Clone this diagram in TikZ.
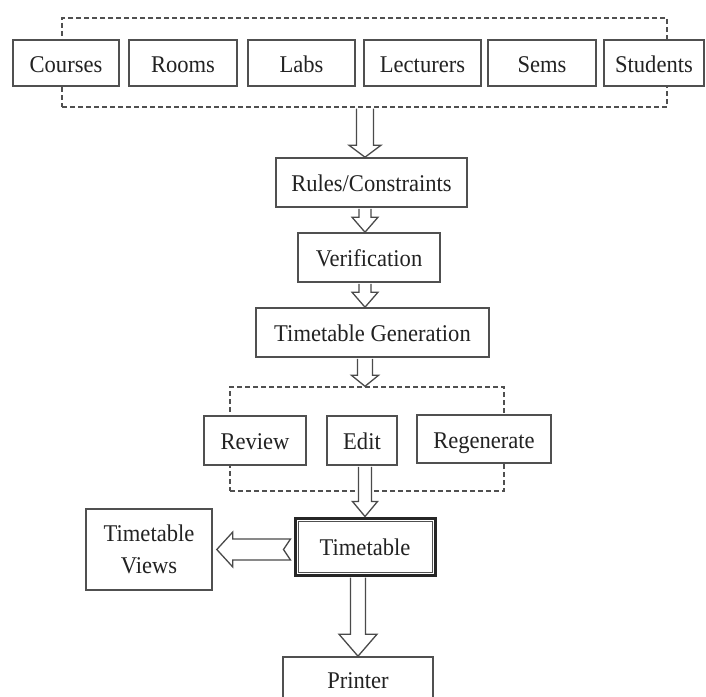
\documentclass[tikz,border=0pt]{standalone}
\usepackage{fontspec}
\setmainfont{Liberation Serif}[FakeStretch=0.94]
\usetikzlibrary{calc}
\definecolor{boxc}{HTML}{505050}
\definecolor{arrc}{HTML}{4A4A4A}
\definecolor{textc}{HTML}{222222}
\newcommand{\blkdown}[6]{%
  \draw[blk] let \p0=(#1), \p1=(#2), \p2=(#3) in
    (\x0-#4,\y1-1pt) -- (\x0-#4,\y2+#6) -- (\x0-#5,\y2+#6) -- (\x0,\y2)
    -- (\x0+#5,\y2+#6) -- (\x0+#4,\y2+#6) -- (\x0+#4,\y1-1pt);}
\begin{document}
\begin{tikzpicture}[x=1pt,y=-1pt,
  box/.style={draw=boxc, line width=1.6pt, rectangle, inner sep=0pt, align=center,
    font=\fontsize{24}{32}\selectfont, text=textc},
  one/.style={box, text height=20pt, text depth=2pt},
  dbox/.style={draw=boxc, line width=1.4pt, dash pattern=on 5pt off 3pt, rectangle, inner sep=0pt},
  blk/.style={draw=arrc, line width=1.3pt, fill=white, line join=miter}]
\useasboundingbox[fill=white] (0,0) rectangle (706,696);

% top dashed group
\node[dbox, minimum width=605pt, minimum height=89pt] (topbox) at (364.5,62.5) {};
\node[one, fill=white, minimum width=106pt, minimum height=46pt] (courses) at (66,63) {Courses};
\node[one, minimum width=108pt, minimum height=46pt] (rooms) at (183,63) {Rooms};
\node[one, minimum width=107pt, minimum height=46pt] (labs) at (301.5,63) {Labs};
\node[one, minimum width=117pt, minimum height=46pt] (lect) at (422.5,63) {Lecturers};
\node[one, minimum width=108pt, minimum height=46pt] (sems) at (542,63) {Sems};
\node[one, fill=white, minimum width=100pt, minimum height=46pt] (stud) at (654,63) {Students};

% chain
\node[one, minimum width=191pt, minimum height=49pt] (rules) at (371.5,182.5) {Rules/Constraints};
\node[one, minimum width=142pt, minimum height=49pt] (verif) at (369,257.5) {Verification};
\node[one, minimum width=233pt, minimum height=49pt] (gen) at (372.5,332.5) {Timetable Generation};

% second dashed group
\node[dbox, minimum width=274pt, minimum height=104pt] (midbox) at (367,439) {};
\node[one, fill=white, minimum width=102pt, minimum height=49pt] (review) at (255,440.5) {Review};
\node[one, minimum width=70pt, minimum height=49pt] (edit) at (362,440.5) {Edit};
\node[one, fill=white, minimum width=134pt, minimum height=48pt] (regen) at (484,439) {Regenerate};

% timetable and outputs
\node[one, draw=black!85, line width=3pt, minimum width=140pt, minimum height=57pt] (tt) at (365,546.5) {Timetable};
\draw[draw=boxc, line width=1pt] ([shift={(4.5pt,-4.5pt)}]tt.north west) rectangle ([shift={(-4.5pt,4.5pt)}]tt.south east);
\node[box, minimum width=126pt, minimum height=81pt] (views) at (149,549.5) {Timetable\\Views};
\node[one, minimum width=150pt, minimum height=44pt] (printer) at (358,679) {Printer};

% block arrows
\blkdown{tt.center}{topbox.south}{rules.north}{8.5pt}{16pt}{12pt}
\blkdown{tt.center}{rules.south}{verif.north}{6pt}{13pt}{15pt}
\blkdown{tt.center}{verif.south}{gen.north}{6pt}{13pt}{15pt}
\blkdown{tt.center}{gen.south}{midbox.north}{7.5pt}{13.5pt}{11pt}
\blkdown{tt.center}{edit.south}{tt.north}{6.5pt}{12.5pt}{15pt}
\blkdown{printer.north}{tt.south}{printer.north}{7.5pt}{19pt}{22pt}
\draw[blk] let \p1=(tt.west), \p2=(views.east), \p3=(views.center) in
  (\x1-3pt,\y3+10.5pt) -- (\x2+20pt,\y3+10.5pt) -- (\x2+20pt,\y3+17.5pt) -- (\x2+4pt,\y3)
  -- (\x2+20pt,\y3-17.5pt) -- (\x2+20pt,\y3-10.5pt) -- (\x1-3pt,\y3-10.5pt) -- (\x1-10pt,\y3) -- cycle;
\end{tikzpicture}
\end{document}
